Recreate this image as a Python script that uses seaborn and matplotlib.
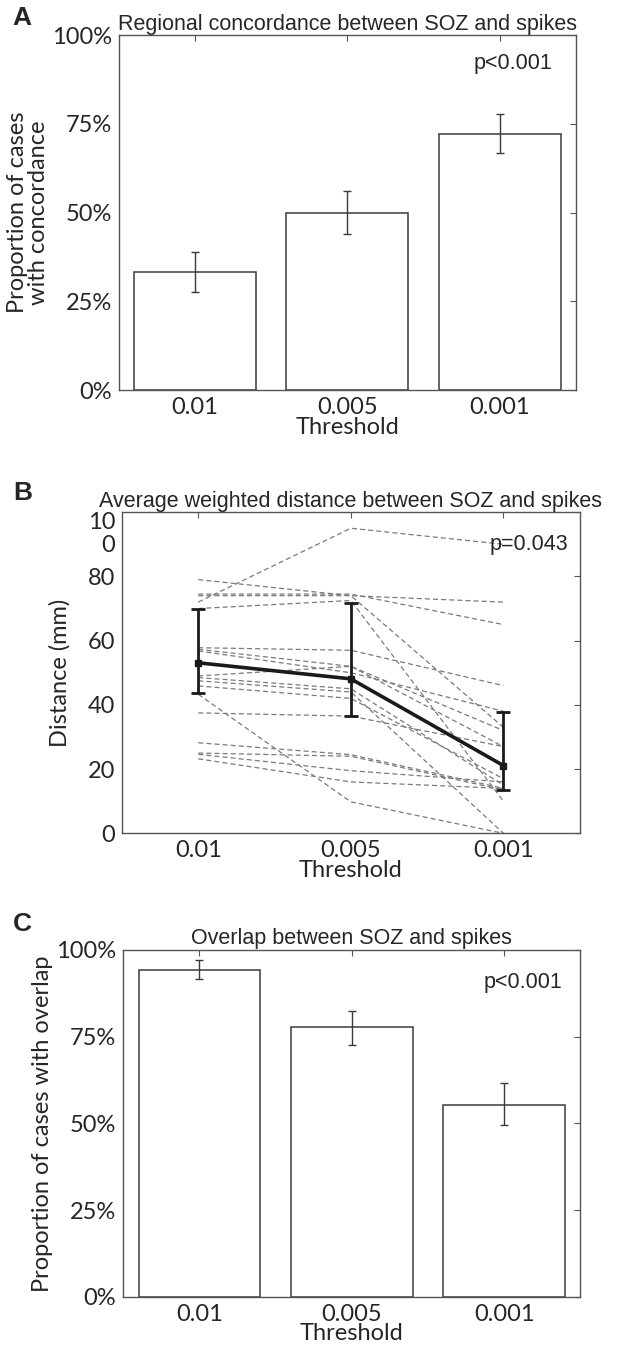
import numpy as np
import pandas as pd
import matplotlib
matplotlib.use("Agg")
import matplotlib.pyplot as plt
import seaborn as sns

# ---- data ----
thresholds = ["0.01", "0.005", "0.001"]

# A: regional concordance (proportion of cases, %)
concord = [33.3, 50.0, 72.3]
concord_lo = [27.7, 44.1, 66.9]
concord_hi = [38.8, 56.2, 77.8]

# B: average weighted distance (mm), one dashed line per patient
dist_p01 = [72, 79, 74.5, 74, 70, 57.8, 57.3, 56.8, 49, 48.5, 47.5, 45.9, 43.3, 37.5, 28.2, 24.6, 23.2, 25]
dist_p005 = [95, 74, 74.5, 74, 72.5, 57, 52, 50, 52, 45, 44, 42, 9.8, 36.5, 24.5, 19.5, 16, 24]
dist_p001 = [90, 72, 65, 33, 10, 46, 27, 38, 32, 15, 0, 17, 0, 27, 14, 16, 14, 13.5]
dist_mean = [53.1, 48.1, 21.1]
dist_lo = [43.7, 36.6, 13.6]
dist_hi = [69.8, 71.6, 37.9]

# C: overlap (proportion of cases, %)
overlap = [94.2, 77.7, 55.4]
overlap_lo = [91.6, 72.7, 49.4]
overlap_hi = [97.2, 82.5, 61.6]

sns.set_theme(style="white")
plt.rcParams["font.family"] = ["Lato", "DejaVu Sans"]
title_font = ["Liberation Sans Narrow", "Liberation Sans", "DejaVu Sans"]
edge = "#3a3a3a"
tick_fs = 17
title_fs = 15.5

fig = plt.figure(figsize=(6.42, 13.55), dpi=100)
axA = fig.add_axes([0.185, 0.712, 0.712, 0.262])
axB = fig.add_axes([0.190, 0.385, 0.713, 0.237])
axC = fig.add_axes([0.192, 0.043, 0.712, 0.256])


def style_axes(ax):
    for s in ax.spines.values():
        s.set_color("#555555")
        s.set_linewidth(1.0)
    ax.tick_params(direction="in", length=4, width=0.8, color="#555555",
                   top=True, right=True, labelsize=tick_fs, pad=5)
    ax.set_xticks([0, 1, 2])
    ax.set_xticklabels(thresholds)
    ax.set_xlim(-0.5, 2.5)
    ax.set_xlabel("Threshold", fontsize=tick_fs, labelpad=-1)


def bar_panel(ax, vals, lo, hi, title, ylabel, ptext, px, py):
    df = pd.DataFrame({"thr": thresholds, "val": vals})
    sns.barplot(data=df, x="thr", y="val", ax=ax, color="white",
                edgecolor=edge, linewidth=1.1, width=0.8, errorbar=None)
    for b in ax.patches:
        b.set_facecolor("white")
    x = np.arange(3)
    yerr = [np.array(vals) - np.array(lo), np.array(hi) - np.array(vals)]
    ax.errorbar(x, vals, yerr=yerr, fmt="none", ecolor=edge, elinewidth=1.0,
                capsize=3, capthick=1.0)
    ax.set_ylim(0, 100)
    ax.set_yticks([0, 25, 50, 75, 100])
    ax.set_yticklabels(["0%", "25%", "50%", "75%", "100%"])
    style_axes(ax)
    ax.set_ylabel(ylabel, fontsize=tick_fs, labelpad=2, linespacing=1.0)
    ax.set_title(title, fontsize=title_fs, family=title_font, pad=4)
    ax.text(px, py, ptext, transform=ax.transAxes, ha="center", va="center",
            fontsize=title_fs, family=title_font)


bar_panel(axA, concord, concord_lo, concord_hi,
          "Regional concordance between SOZ and spikes",
          "Proportion of cases\nwith concordance", "p<0.001", 0.862, 0.92)
bar_panel(axC, overlap, overlap_lo, overlap_hi,
          "Overlap between SOZ and spikes",
          "Proportion of cases with overlap", "p<0.001", 0.875, 0.905)

# B: dashed patient lines + bold mean with error bars
n = len(dist_p01)
long = pd.DataFrame({
    "patient": np.tile(np.arange(n), 3),
    "x": np.repeat([0, 1, 2], n),
    "dist": dist_p01 + dist_p005 + dist_p001,
})
sns.lineplot(data=long, x="x", y="dist", units="patient", estimator=None,
             color="#7a7a7a", linewidth=0.9, linestyle=(0, (4, 2.5)), ax=axB,
             legend=False)
xm = np.arange(3)
axB.errorbar(xm, dist_mean,
             yerr=[np.array(dist_mean) - np.array(dist_lo),
                   np.array(dist_hi) - np.array(dist_mean)],
             fmt="-s", color="#1a1a1a", lw=2.6, markersize=5,
             elinewidth=2.0, capsize=5, capthick=2.0, zorder=5)
axB.set_ylim(0, 100)
axB.set_yticks([0, 20, 40, 60, 80, 100])
axB.set_yticklabels(["0", "20", "40", "60", "80", "10\n0"])
style_axes(axB)
for lab in axB.get_yticklabels():
    if lab.get_text().startswith("10"):
        lab.set_va("top")
        lab.set_linespacing(1.1)
axB.set_ylabel("Distance (mm)", fontsize=tick_fs, labelpad=12)
axB.set_title("Average weighted distance between SOZ and spikes",
              fontsize=title_fs, family=title_font, pad=4)
axB.text(0.888, 0.90, "p=0.043", transform=axB.transAxes, ha="center",
         va="center", fontsize=title_fs, family=title_font)

# panel letters
for letter, y in [("A", 0.987), ("B", 0.636), ("C", 0.318)]:
    fig.text(0.02, y, letter, fontsize=19, fontweight="bold",
             family=["Liberation Sans", "DejaVu Sans"], va="center")

fig.savefig("out.png", dpi=100, facecolor="white")
